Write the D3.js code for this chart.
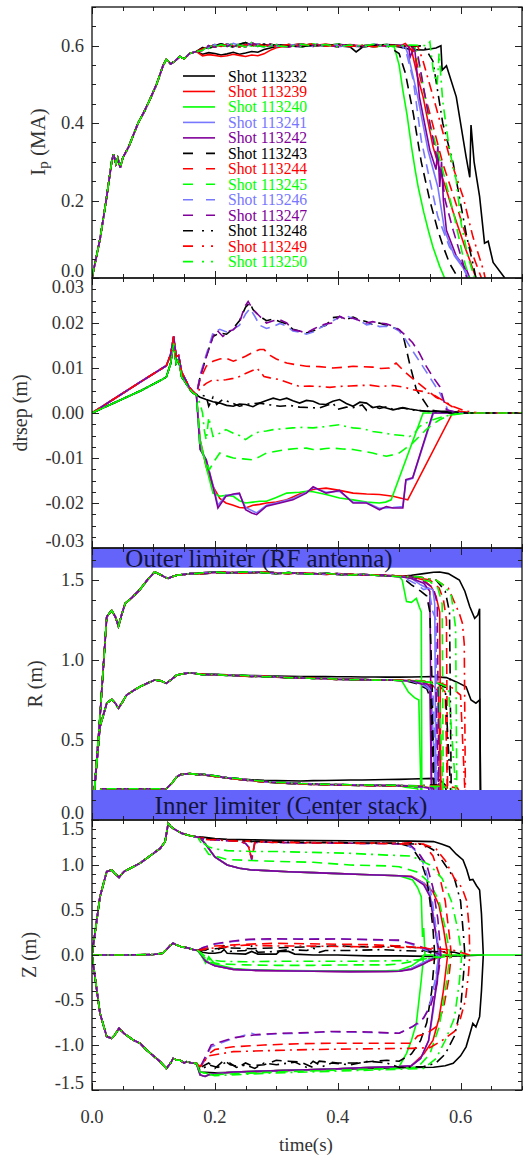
<!DOCTYPE html>
<html>
<head>
<meta charset="utf-8">
<script src="https://cdn.jsdelivr.net/npm/d3@7"></script>
<style>
  body { margin: 0; background: #fff; }
  text { font-family: "Liberation Serif", "Times New Roman", serif; }
</style>
</head>
<body>
<div id="chart"></div>
<script>
// ---- shots and styles ----
const shots = ["113232", "113239", "113240", "113241", "113242", "113243", "113244",
               "113245", "113246", "113247", "113248", "113249", "113250"];
const shotColors = ["#000000", "#ff0000", "#00ff00", "#7878ff", "#80009a",
                    "#000000", "#ff0000", "#00ff00", "#7878ff", "#80009a",
                    "#000000", "#ff0000", "#00ff00"];
const shotDash = [null, null, null, null, null,
                  "10,6", "10,6", "10,6", "10,6", "10,6",
                  "10,5,2,5", "10,5,2,5", "10,5,2,5"];
const legendDash = [null, null, null, null, null,
                    "10,13", "10,13", "10,13", "10,13", "10,13",
                    "10,9,2,7,2,10", "10,9,2,7,2,10", "10,9,2,7,2,10"];

// ---- tick labels ----
const timeTicks = [0, 0.2, 0.4, 0.6];
const ipTicks = [0, 0.2, 0.4, 0.6];
const drsepTicks = [-0.03, -0.02, -0.01, 0, 0.01, 0.02, 0.03];
const rTicks = [0, 0.5, 1.0, 1.5];
const zTicks = [-1.5, -1.0, -0.5, 0, 0.5, 1.0, 1.5];

// ---- I_p (MA) ----
const ipRamp = [[0,0],[0.013,0.1],[0.023,0.2],[0.032,0.3],[0.035,0.32],[0.039,0.295],[0.042,0.31],[0.046,0.285],
  [0.05,0.31],[0.06,0.34],[0.075,0.4],[0.085,0.43],[0.094,0.46],[0.105,0.5],[0.116,0.55],[0.121,0.565],
  [0.128,0.553],[0.135,0.56],[0.143,0.572],[0.15,0.566],[0.159,0.58],[0.17,0.585]];
const ipFlatA = [[0.18,0.592],[0.19,0.597],[0.2,0.603],[0.21,0.598],[0.22,0.604],[0.23,0.6],[0.24,0.597],[0.25,0.603],
  [0.26,0.599],[0.27,0.605],[0.28,0.6],[0.29,0.602],[0.3,0.598],[0.32,0.603],[0.34,0.6],[0.36,0.605],[0.38,0.599],
  [0.4,0.602],[0.42,0.598],[0.44,0.601],[0.46,0.597],[0.48,0.601]];
const ipFlatB = [[0.18,0.588],[0.19,0.6],[0.2,0.596],[0.21,0.603],[0.22,0.598],[0.23,0.606],[0.24,0.601],[0.25,0.597],
  [0.26,0.608],[0.27,0.6],[0.28,0.597],[0.29,0.604],[0.3,0.6],[0.32,0.597],[0.34,0.604],[0.36,0.599],[0.38,0.603],
  [0.4,0.597],[0.42,0.602],[0.44,0.599],[0.46,0.604],[0.48,0.598]];
const ipFlatC = [[0.18,0.595],[0.19,0.593],[0.2,0.6],[0.21,0.605],[0.22,0.6],[0.23,0.597],[0.24,0.604],[0.25,0.608],
  [0.26,0.602],[0.27,0.598],[0.28,0.604],[0.29,0.598],[0.3,0.603],[0.32,0.6],[0.34,0.597],[0.36,0.602],[0.38,0.6],
  [0.4,0.604],[0.42,0.6],[0.44,0.597],[0.46,0.601],[0.48,0.603]];
const ipTails = [
  [[0.18,0.578],[0.19,0.582],[0.2,0.58],[0.21,0.576],[0.22,0.579],[0.23,0.583],[0.24,0.578],[0.25,0.581],[0.26,0.585],
   [0.27,0.583],[0.28,0.59],[0.29,0.594],[0.3,0.598],[0.32,0.601],[0.34,0.604],[0.36,0.598],[0.38,0.603],[0.4,0.6],
   [0.42,0.597],[0.43,0.584],[0.44,0.596],[0.46,0.601],[0.48,0.603],[0.5,0.597],[0.52,0.59],[0.54,0.589],[0.56,0.594],
   [0.568,0.6],[0.57,0.537],[0.577,0.548],[0.593,0.468],[0.609,0.313],[0.615,0.26],[0.617,0.395],[0.622,0.3],
   [0.631,0.21],[0.639,0.09],[0.645,0.095],[0.653,0.04],[0.672,0]],
  [[0.18,0.574],[0.19,0.577],[0.2,0.575],[0.21,0.572],[0.22,0.574],[0.23,0.578],[0.24,0.575],[0.25,0.572],[0.26,0.576],
   [0.27,0.574],[0.28,0.579],[0.29,0.588],[0.3,0.595],[0.32,0.6],[0.34,0.605],[0.36,0.6],[0.38,0.604],[0.4,0.6],
   [0.42,0.603],[0.44,0.599],[0.46,0.603],[0.48,0.6],[0.5,0.598],[0.51,0.606],[0.52,0.59],[0.53,0.52],[0.539,0.468],
   [0.555,0.34],[0.566,0.28],[0.577,0.227],[0.588,0.17],[0.598,0.123],[0.607,0.08],[0.615,0.046],[0.625,0]],
  [[0.492,0.597],[0.5,0.55],[0.506,0.485],[0.513,0.42],[0.52,0.34],[0.526,0.28],[0.531,0.235],[0.54,0.17],[0.548,0.12],
   [0.555,0.08],[0.566,0.03],[0.574,0]],
  [[0.5,0.6],[0.51,0.598],[0.515,0.575],[0.53,0.47],[0.547,0.33],[0.563,0.235],[0.574,0.123],[0.59,0.057],[0.607,0.02],[0.612,0]],
  [[0.5,0.602],[0.515,0.6],[0.518,0.571],[0.525,0.598],[0.533,0.468],[0.55,0.33],[0.56,0.28],[0.563,0.34],[0.566,0.235],
   [0.569,0.3],[0.572,0.2],[0.577,0.123],[0.593,0.057],[0.61,0.02],[0.615,0]],
  [[0.49,0.59],[0.5,0.58],[0.51,0.53],[0.523,0.425],[0.536,0.3],[0.55,0.2],[0.563,0.123],[0.572,0.08],[0.582,0.038],[0.596,0]],
  [[0.5,0.6],[0.52,0.6],[0.525,0.58],[0.537,0.5],[0.55,0.425],[0.571,0.296],[0.593,0.19],[0.609,0.107],[0.625,0.038],[0.634,0]],
  [[0.5,0.6],[0.525,0.6],[0.533,0.55],[0.55,0.4],[0.571,0.278],[0.59,0.158],[0.604,0.055],[0.614,0]],
  [[0.495,0.6],[0.505,0.6],[0.512,0.58],[0.523,0.511],[0.536,0.356],[0.55,0.252],[0.563,0.158],[0.582,0.08],[0.601,0.038],[0.612,0]],
  [[0.5,0.6],[0.52,0.6],[0.53,0.58],[0.55,0.4],[0.563,0.296],[0.57,0.26],[0.575,0.2],[0.588,0.123],[0.604,0.038],[0.61,0]],
  [[0.5,0.6],[0.52,0.598],[0.54,0.6],[0.555,0.56],[0.571,0.4],[0.588,0.296],[0.598,0.21],[0.61,0.107],[0.62,0.038],[0.625,0]],
  [[0.5,0.6],[0.52,0.6],[0.53,0.6],[0.539,0.56],[0.56,0.442],[0.582,0.313],[0.604,0.21],[0.62,0.107],[0.637,0.021],[0.64,0]],
  [[0.5,0.6],[0.52,0.602],[0.545,0.6],[0.55,0.61],[0.555,0.542],[0.562,0.5],[0.565,0.58],[0.571,0.456],[0.582,0.33],
   [0.593,0.252],[0.601,0.14],[0.612,0.055],[0.623,0]]
];

// ---- drsep (m) ----
const drRampHi = [[0,0],[0.04,0.0035],[0.08,0.007],[0.115,0.01],[0.121,0.0105],[0.128,0.013],[0.133,0.017],[0.137,0.0125],
  [0.141,0.0128],[0.146,0.009],[0.152,0.0075],[0.158,0.0058],[0.164,0.0048],[0.17,0.004]];
const drRampLo = [[0,0],[0.04,0.0025],[0.08,0.005],[0.115,0.0075],[0.121,0.008],[0.128,0.011],[0.133,0.0155],[0.137,0.011],
  [0.141,0.012],[0.146,0.008],[0.152,0.0068],[0.158,0.0055],[0.164,0.0045],[0.17,0.004]];
const drTails = [
  [[0.176,0.0035],[0.186,0.003],[0.197,0.0025],[0.208,0.0022],[0.219,0.0017],[0.23,0.0015],[0.24,0.002],[0.25,0.0019],
   [0.262,0.0014],[0.273,0.0022],[0.284,0.0028],[0.295,0.0033],[0.306,0.0029],[0.317,0.0033],[0.327,0.0027],[0.338,0.0022],
   [0.349,0.0028],[0.36,0.0026],[0.37,0.002],[0.381,0.0019],[0.392,0.0026],[0.403,0.003],[0.414,0.0021],[0.425,0.0015],
   [0.436,0.0024],[0.447,0.0022],[0.457,0.0012],[0.468,0.0015],[0.479,0.0011],[0.49,0.0007],[0.506,0.0012],[0.517,0.0009],
   [0.53,0.0006],[0.544,0.0004],[0.577,0.0004],[0.62,0],[0.7,0]],
  [[0.176,-0.006],[0.186,-0.012],[0.197,-0.0163],[0.208,-0.019],[0.218,-0.02],[0.23,-0.0205],[0.24,-0.021],[0.25,-0.0211],
   [0.262,-0.0205],[0.273,-0.0203],[0.284,-0.02],[0.3,-0.0198],[0.317,-0.0193],[0.338,-0.018],[0.36,-0.017],[0.381,-0.0167],
   [0.403,-0.0172],[0.425,-0.0178],[0.447,-0.018],[0.468,-0.0181],[0.49,-0.0185],[0.505,-0.019],[0.514,-0.0193],[0.587,0],[0.7,0]],
  [[0.176,-0.006],[0.186,-0.012],[0.197,-0.0178],[0.208,-0.0185],[0.218,-0.0183],[0.23,-0.0185],[0.24,-0.0195],[0.25,-0.02],
   [0.262,-0.0198],[0.273,-0.0196],[0.284,-0.0196],[0.3,-0.0188],[0.317,-0.0178],[0.338,-0.0176],[0.349,-0.0174],[0.36,-0.0175],
   [0.381,-0.0181],[0.403,-0.0189],[0.425,-0.0193],[0.447,-0.0198],[0.468,-0.02],[0.478,-0.0198],[0.487,-0.0193],[0.539,0],[0.7,0]],
  [[0.176,-0.008],[0.186,-0.0104],[0.197,-0.016],[0.205,-0.0205],[0.218,-0.0183],[0.24,-0.018],[0.25,-0.021],[0.268,-0.0222],
   [0.284,-0.0205],[0.306,-0.0198],[0.327,-0.019],[0.349,-0.0176],[0.36,-0.0166],[0.381,-0.0176],[0.403,-0.0174],[0.425,-0.0198],
   [0.447,-0.0199],[0.468,-0.0212],[0.49,-0.021],[0.506,-0.0208],[0.511,-0.015],[0.522,-0.0145],[0.556,0],[0.7,0]],
  [[0.176,-0.0081],[0.186,-0.0104],[0.197,-0.0163],[0.205,-0.0211],[0.218,-0.0185],[0.23,-0.018],[0.24,-0.0178],[0.25,-0.0215],
   [0.26,-0.0222],[0.268,-0.0226],[0.284,-0.0207],[0.306,-0.02],[0.327,-0.0193],[0.349,-0.0178],[0.36,-0.0164],[0.381,-0.0178],
   [0.403,-0.0172],[0.425,-0.02],[0.447,-0.02],[0.468,-0.0215],[0.479,-0.0208],[0.49,-0.0211],[0.506,-0.0211],[0.511,-0.0148],
   [0.522,-0.0144],[0.555,0],[0.7,0]],
  [[0.176,0.008],[0.186,0.0126],[0.197,0.017],[0.208,0.0178],[0.219,0.0175],[0.23,0.0188],[0.24,0.0205],[0.25,0.0235],
   [0.257,0.0245],[0.262,0.023],[0.273,0.0215],[0.284,0.0205],[0.295,0.0209],[0.306,0.0203],[0.317,0.0198],[0.327,0.0186],
   [0.338,0.0182],[0.349,0.0178],[0.36,0.0182],[0.37,0.019],[0.381,0.0195],[0.392,0.0212],[0.403,0.0214],[0.414,0.0208],
   [0.425,0.0213],[0.436,0.0207],[0.447,0.0203],[0.457,0.0196],[0.468,0.02],[0.479,0.0195],[0.49,0.019],[0.5,0.0185],
   [0.506,0.0175],[0.517,0.011],[0.528,0.0052],[0.55,0.0007],[0.58,0],[0.7,0]],
  [[0.176,0.0075],[0.186,0.0104],[0.197,0.0115],[0.208,0.012],[0.218,0.0122],[0.23,0.0115],[0.24,0.012],[0.25,0.0126],
   [0.262,0.0135],[0.273,0.0141],[0.28,0.0141],[0.29,0.0128],[0.3,0.012],[0.317,0.0111],[0.333,0.0107],[0.349,0.0104],
   [0.37,0.0103],[0.392,0.01],[0.414,0.0102],[0.425,0.0104],[0.44,0.0103],[0.457,0.0102],[0.47,0.0099],[0.484,0.01],
   [0.495,0.0111],[0.511,0.0089],[0.528,0.007],[0.544,0.0052],[0.56,0.0035],[0.577,0.0022],[0.598,0.0004],[0.62,0],[0.7,0]],
  [[0.176,-0.0074],[0.183,-0.01],[0.191,-0.0126],[0.2,-0.0105],[0.208,-0.0089],[0.218,-0.0095],[0.23,-0.01],[0.246,-0.0102],
   [0.262,-0.0104],[0.273,-0.0097],[0.284,-0.0089],[0.3,-0.0085],[0.317,-0.0081],[0.333,-0.0079],[0.349,-0.0078],[0.36,-0.0081],
   [0.37,-0.0081],[0.381,-0.0079],[0.392,-0.0078],[0.408,-0.008],[0.425,-0.0081],[0.441,-0.0085],[0.457,-0.0089],[0.468,-0.0093],
   [0.479,-0.0096],[0.49,-0.0093],[0.5,-0.0089],[0.511,-0.0078],[0.522,-0.0067],[0.533,-0.0052],[0.544,-0.0037],[0.555,-0.0025],
   [0.566,-0.0015],[0.58,-0.0006],[0.592,-0.0002],[0.61,0],[0.7,0]],
  [[0.176,0.0085],[0.186,0.013],[0.197,0.0178],[0.208,0.0186],[0.219,0.018],[0.23,0.0186],[0.24,0.0195],[0.25,0.022],
   [0.257,0.0232],[0.265,0.0215],[0.273,0.0195],[0.284,0.0188],[0.295,0.0192],[0.306,0.0199],[0.317,0.0193],[0.327,0.0182],
   [0.338,0.018],[0.349,0.0175],[0.36,0.018],[0.37,0.0188],[0.381,0.0196],[0.392,0.0205],[0.403,0.0213],[0.414,0.0216],
   [0.425,0.021],[0.436,0.0205],[0.447,0.0196],[0.457,0.0198],[0.468,0.0192],[0.479,0.0193],[0.49,0.019],[0.5,0.0182],
   [0.511,0.0162],[0.522,0.0138],[0.544,0.0092],[0.566,0.0045],[0.58,0.0005],[0.6,0],[0.7,0]],
  [[0.176,0.008],[0.1865,0.0126],[0.197,0.017],[0.2027,0.0185],[0.213,0.017],[0.223,0.0182],[0.23,0.0185],[0.24,0.02],
   [0.248,0.0235],[0.2542,0.0248],[0.262,0.023],[0.273,0.0215],[0.284,0.02],[0.295,0.0205],[0.306,0.0207],[0.317,0.02],
   [0.327,0.0185],[0.338,0.0182],[0.349,0.0178],[0.36,0.0186],[0.37,0.0193],[0.381,0.0198],[0.392,0.02],[0.403,0.0215],
   [0.414,0.0208],[0.425,0.0211],[0.436,0.0205],[0.447,0.02],[0.457,0.0203],[0.468,0.02],[0.479,0.0198],[0.49,0.0193],
   [0.5,0.0185],[0.511,0.0172],[0.522,0.0156],[0.533,0.0133],[0.544,0.0104],[0.555,0.008],[0.566,0.0059],[0.577,0.0007],
   [0.6,0],[0.7,0]],
  [[0.176,0.004],[0.186,0.0037],[0.19,0.0015],[0.197,0.0035],[0.203,0.0019],[0.213,0.003],[0.223,0.0025],[0.24,0.0015],
   [0.255,0.002],[0.273,0.0022],[0.29,0.0018],[0.306,0.0015],[0.322,0.0017],[0.338,0.0013],[0.354,0.0012],[0.37,0.0011],
   [0.392,0.0022],[0.4,0.0008],[0.414,0.0013],[0.425,0.0012],[0.44,0.0018],[0.447,0.0006],[0.457,0.0016],[0.468,0.001],
   [0.48,0.0014],[0.49,0.0008],[0.506,0.0011],[0.52,0.0007],[0.544,0.0004],[0.577,0.0002],[0.61,0],[0.7,0]],
  [[0.176,0.0055],[0.186,0.0066],[0.197,0.0074],[0.208,0.0072],[0.218,0.0074],[0.23,0.0077],[0.24,0.0081],[0.25,0.0088],
   [0.262,0.0095],[0.268,0.01],[0.275,0.009],[0.28,0.0081],[0.29,0.0078],[0.306,0.0074],[0.322,0.0066],[0.338,0.0059],
   [0.354,0.006],[0.37,0.0059],[0.387,0.0057],[0.403,0.0059],[0.42,0.006],[0.436,0.0061],[0.452,0.0062],[0.468,0.0059],
   [0.49,0.0061],[0.506,0.0058],[0.522,0.0052],[0.538,0.0048],[0.555,0.0041],[0.571,0.0028],[0.587,0.0015],[0.609,0.0004],
   [0.63,0],[0.7,0]],
  [[0.176,0.002],[0.18,0],[0.183,-0.004],[0.186,-0.006],[0.19,-0.001],[0.197,-0.0052],[0.208,-0.0045],[0.218,-0.0037],
   [0.23,-0.0045],[0.24,-0.005],[0.25,-0.0059],[0.262,-0.0048],[0.273,-0.0041],[0.284,-0.004],[0.295,-0.0037],[0.311,-0.0035],
   [0.327,-0.0033],[0.343,-0.0032],[0.36,-0.0033],[0.381,-0.003],[0.403,-0.0026],[0.414,-0.003],[0.425,-0.0033],[0.441,-0.0035],
   [0.457,-0.0041],[0.473,-0.0044],[0.49,-0.0048],[0.506,-0.005],[0.517,-0.0052],[0.525,-0.0045],[0.533,-0.003],[0.544,-0.0022],
   [0.555,-0.0015],[0.571,-0.0008],[0.587,-0.0004],[0.609,0],[0.7,0]]
];

// ---- R (m): outer edge, magnetic axis, inner edge ----
const rOutRamp = [[0,0.05],[0.004,0.19],[0.013,0.646],[0.024,1.27],[0.032,1.31],[0.038,1.27],[0.043,1.21],[0.048,1.28],
  [0.054,1.354],[0.065,1.39],[0.078,1.44],[0.09,1.5],[0.102,1.55],[0.113,1.53],[0.12,1.515],[0.124,1.51],[0.13,1.52],
  [0.138,1.53],[0.15,1.535],[0.16,1.54],[0.17,1.54]];
const rOutFlatA = [[0.18,1.545],[0.2,1.55],[0.22,1.543],[0.24,1.548],[0.26,1.552],[0.28,1.545],[0.3,1.54],[0.32,1.546],
  [0.34,1.54],[0.36,1.537],[0.38,1.542],[0.4,1.535],[0.42,1.53],[0.44,1.536],[0.46,1.53],[0.48,1.526],[0.5,1.522]];
const rOutFlatB = [[0.18,1.54],[0.2,1.545],[0.22,1.55],[0.24,1.542],[0.26,1.545],[0.28,1.55],[0.3,1.545],[0.32,1.54],
  [0.34,1.545],[0.36,1.54],[0.38,1.535],[0.4,1.54],[0.42,1.535],[0.44,1.53],[0.46,1.532],[0.48,1.53],[0.5,1.525]];
const rOutTails = [
  [[0.52,1.53],[0.54,1.54],[0.556,1.548],[0.566,1.55],[0.58,1.54],[0.598,1.5],[0.607,1.43],[0.615,1.333],[0.623,1.26],
   [0.628,1.28],[0.631,1.32],[0.632,0.1]],
  [[0.52,1.52],[0.54,1.5],[0.552,1.46],[0.56,1.4],[0.566,1.3],[0.568,0.1]],
  [[0.505,1.5],[0.512,1.365],[0.52,1.36],[0.528,1.385],[0.533,1.33],[0.536,1.3],[0.537,0.1]],
  [[0.52,1.51],[0.535,1.47],[0.545,1.45],[0.555,1.44],[0.558,1.35],[0.56,0.1]],
  [[0.52,1.51],[0.54,1.48],[0.55,1.43],[0.553,0.1]],
  [[0.51,1.5],[0.52,1.47],[0.535,1.43],[0.545,1.4],[0.55,1.3],[0.554,0.8],[0.557,0.1]],
  [[0.52,1.52],[0.55,1.5],[0.565,1.45],[0.572,1.38],[0.577,1.25],[0.579,0.1]],
  [[0.52,1.52],[0.55,1.49],[0.563,1.45],[0.57,1.35],[0.572,0.1]],
  [[0.51,1.51],[0.53,1.47],[0.54,1.44],[0.548,1.45],[0.555,1.3],[0.56,1.25],[0.562,0.1]],
  [[0.52,1.52],[0.54,1.49],[0.556,1.45],[0.562,1.35],[0.565,0.1]],
  [[0.53,1.52],[0.56,1.5],[0.575,1.43],[0.582,1.3],[0.585,0.1]],
  [[0.53,1.52],[0.56,1.5],[0.58,1.45],[0.598,1.29],[0.603,1.23],[0.606,1.1],[0.608,0.1]],
  [[0.53,1.52],[0.56,1.5],[0.575,1.46],[0.585,1.4],[0.592,1.2],[0.594,0.1]]
];
const rMidRamp = [[0,0.05],[0.004,0.19],[0.013,0.583],[0.024,0.73],[0.032,0.754],[0.038,0.73],[0.043,0.698],[0.05,0.74],
  [0.056,0.78],[0.068,0.81],[0.078,0.833],[0.09,0.855],[0.102,0.875],[0.112,0.87],[0.121,0.854],[0.13,0.88],[0.138,0.906],
  [0.15,0.915],[0.159,0.92],[0.17,0.915]];
const rMidFlatA = [[0.18,0.912],[0.2,0.906],[0.22,0.908],[0.24,0.9],[0.26,0.897],[0.28,0.9],[0.3,0.893],[0.32,0.89],
  [0.34,0.887],[0.36,0.889],[0.38,0.882],[0.4,0.879],[0.42,0.88],[0.44,0.876],[0.46,0.877],[0.48,0.874],[0.5,0.875]];
const rMidFlatB = [[0.18,0.908],[0.2,0.91],[0.22,0.903],[0.24,0.905],[0.26,0.9],[0.28,0.895],[0.3,0.897],[0.32,0.888],
  [0.34,0.89],[0.36,0.884],[0.38,0.885],[0.4,0.88],[0.42,0.877],[0.44,0.879],[0.46,0.874],[0.48,0.876],[0.5,0.872]];
const rMidFlatHi = [[0.18,0.912],[0.2,0.91],[0.22,0.908],[0.24,0.905],[0.26,0.903],[0.28,0.902],[0.3,0.9],[0.32,0.898],
  [0.34,0.897],[0.36,0.896],[0.38,0.896],[0.4,0.895],[0.42,0.895],[0.44,0.894],[0.46,0.894],[0.48,0.893],[0.5,0.893]];
const rMidTails = [
  [[0.52,0.894],[0.54,0.895],[0.556,0.896],[0.577,0.89],[0.595,0.86],[0.609,0.833],[0.617,0.75],[0.625,0.73],[0.631,0.75],[0.633,0.1]],
  [[0.52,0.87],[0.54,0.855],[0.555,0.84],[0.564,0.8],[0.568,0.1]],
  [[0.505,0.865],[0.515,0.8],[0.525,0.765],[0.532,0.75],[0.536,0.1]],
  [[0.52,0.868],[0.54,0.85],[0.552,0.82],[0.56,0.1]],
  [[0.52,0.868],[0.54,0.845],[0.55,0.81],[0.553,0.1]],
  [[0.51,0.87],[0.53,0.85],[0.545,0.82],[0.552,0.75],[0.557,0.1]],
  [[0.52,0.872],[0.55,0.86],[0.565,0.84],[0.575,0.8],[0.579,0.1]],
  [[0.52,0.87],[0.55,0.86],[0.565,0.83],[0.572,0.1]],
  [[0.52,0.868],[0.54,0.84],[0.555,0.8],[0.562,0.1]],
  [[0.52,0.87],[0.545,0.85],[0.56,0.8],[0.565,0.1]],
  [[0.53,0.87],[0.56,0.86],[0.575,0.83],[0.585,0.1]],
  [[0.53,0.872],[0.56,0.865],[0.585,0.83],[0.6,0.78],[0.608,0.1]],
  [[0.53,0.87],[0.56,0.86],[0.58,0.83],[0.594,0.1]]
];
const rInRamp = [[0.004,0.1],[0.015,0.195],[0.05,0.195],[0.1,0.195],[0.121,0.195],[0.13,0.23],[0.138,0.27],[0.145,0.285],
  [0.159,0.29],[0.17,0.285]];
const rInFlatA = [[0.18,0.283],[0.2,0.272],[0.22,0.262],[0.24,0.254],[0.26,0.245],[0.28,0.238],[0.3,0.233],[0.32,0.229],
  [0.34,0.226],[0.36,0.222],[0.38,0.221],[0.4,0.218],[0.42,0.218],[0.44,0.216],[0.46,0.215],[0.48,0.214],[0.5,0.213]];
const rInFlatB = [[0.18,0.286],[0.2,0.276],[0.22,0.264],[0.24,0.258],[0.26,0.248],[0.28,0.242],[0.3,0.235],[0.32,0.233],
  [0.34,0.228],[0.36,0.226],[0.38,0.223],[0.4,0.222],[0.42,0.22],[0.44,0.219],[0.46,0.218],[0.48,0.217],[0.5,0.216]];
const rInFlatHi = [[0.18,0.285],[0.2,0.275],[0.22,0.265],[0.24,0.258],[0.26,0.252],[0.28,0.248],[0.3,0.246],[0.32,0.245],
  [0.34,0.244],[0.36,0.246],[0.38,0.247],[0.4,0.248],[0.42,0.25],[0.44,0.25],[0.46,0.252],[0.48,0.253],[0.5,0.254]];
const rInTails = [
  [[0.52,0.256],[0.556,0.26],[0.566,0.25],[0.575,0.22],[0.58,0.1]],
  [[0.53,0.21],[0.555,0.2],[0.568,0.1]],
  [[0.51,0.205],[0.53,0.195],[0.537,0.1]],
  [[0.53,0.21],[0.55,0.2],[0.56,0.1]],
  [[0.53,0.21],[0.548,0.2],[0.553,0.1]],
  [[0.52,0.21],[0.545,0.205],[0.557,0.1]],
  [[0.53,0.212],[0.565,0.205],[0.579,0.1]],
  [[0.53,0.21],[0.56,0.2],[0.572,0.1]],
  [[0.53,0.21],[0.55,0.2],[0.562,0.1]],
  [[0.53,0.21],[0.555,0.2],[0.565,0.1]],
  [[0.53,0.214],[0.56,0.22],[0.575,0.205],[0.585,0.1]],
  [[0.53,0.213],[0.57,0.215],[0.595,0.2],[0.608,0.1]],
  [[0.53,0.212],[0.565,0.21],[0.585,0.2],[0.594,0.1]]
];

// ---- Z (m): top edge, magnetic axis, bottom edge ----
const zUpRamp = [[0,0],[0.013,0.648],[0.024,0.926],[0.032,0.944],[0.037,0.907],[0.044,0.863],[0.052,0.926],[0.067,0.981],
  [0.078,1.02],[0.089,1.074],[0.1,1.13],[0.111,1.185],[0.119,1.26],[0.124,1.463],[0.128,1.43],[0.132,1.407],[0.146,1.352],
  [0.16,1.325],[0.172,1.31]];
const zUpHiA = [[0.18,1.3],[0.19,1.295],[0.2,1.285],[0.22,1.275],[0.24,1.27],[0.26,1.262],[0.28,1.26],[0.3,1.255],
  [0.33,1.252],[0.36,1.25],[0.4,1.25],[0.44,1.245],[0.48,1.242],[0.5,1.24]];
const zUpHiB = [[0.18,1.29],[0.19,1.28],[0.2,1.28],[0.22,1.27],[0.24,1.265],[0.25,1.24],[0.255,1.2],[0.26,1.06],
  [0.265,1.25],[0.28,1.255],[0.3,1.25],[0.33,1.248],[0.36,1.245],[0.4,1.243],[0.44,1.24],[0.48,1.238],[0.5,1.235]];
const zUpNeg = [[0.176,1.3],[0.185,1.23],[0.2,1.09],[0.22,1.0],[0.24,0.963],[0.26,0.945],[0.284,0.937],[0.32,0.925],
  [0.36,0.915],[0.392,0.907],[0.44,0.895],[0.5,0.881]];
const zUpTails = [
  [[0.18,1.31],[0.2,1.295],[0.22,1.285],[0.26,1.28],[0.3,1.275],[0.36,1.272],[0.42,1.27],[0.48,1.268],[0.52,1.265],
   [0.556,1.26],[0.57,1.23],[0.582,1.2],[0.593,1.12],[0.604,1.056],[0.61,0.95],[0.615,0.833],[0.62,0.84],[0.626,0.77],
   [0.631,0.722],[0.634,0.46],[0.637,0]],
  [[0.52,0.875],[0.54,0.8],[0.555,0.7],[0.565,0.55],[0.572,0.3],[0.579,0]],
  [[0.505,0.87],[0.522,0.833],[0.53,0.75],[0.536,0.648],[0.538,0.2],[0.54,0.3],[0.542,0]],
  [[0.52,0.87],[0.54,0.8],[0.55,0.68],[0.558,0.35],[0.564,0]],
  [[0.52,0.87],[0.54,0.78],[0.55,0.65],[0.558,0.3],[0.566,0]],
  [[0.52,1.2],[0.535,1.05],[0.545,0.85],[0.55,0.6],[0.555,0.3],[0.558,0]],
  [[0.52,1.25],[0.54,1.23],[0.555,1.1],[0.565,0.9],[0.575,0.6],[0.582,0.2],[0.585,0]],
  [[0.18,1.22],[0.19,1.12],[0.2,1.1],[0.22,1.06],[0.26,1.05],[0.3,1.04],[0.36,1.03],[0.42,1.0],[0.48,0.99],[0.5,0.98],
   [0.53,0.92],[0.55,0.8],[0.565,0.6],[0.575,0.3],[0.583,0]],
  [[0.52,1.2],[0.535,1.1],[0.545,0.9],[0.553,0.65],[0.56,0.3],[0.565,0]],
  [[0.515,1.24],[0.53,1.15],[0.545,1.0],[0.555,0.75],[0.563,0.4],[0.568,0]],
  [[0.54,1.23],[0.56,1.15],[0.575,1.0],[0.59,0.85],[0.6,0.6],[0.605,0.2],[0.607,0]],
  [[0.54,1.23],[0.56,1.18],[0.575,1.05],[0.59,0.85],[0.602,0.75],[0.61,0.6],[0.614,0.3],[0.615,0]],
  [[0.18,1.25],[0.19,1.2],[0.2,1.18],[0.22,1.16],[0.26,1.15],[0.3,1.15],[0.36,1.14],[0.42,1.13],[0.48,1.11],[0.52,1.1],
   [0.55,1.0],[0.57,0.85],[0.585,0.6],[0.595,0.3],[0.602,0]]
];
const zMidRamp = [[0,0],[0.05,0],[0.1,0.005],[0.115,0.02],[0.121,0.06],[0.128,0.11],[0.132,0.13],[0.138,0.11],
  [0.146,0.09],[0.155,0.08],[0.165,0.06],[0.172,0.05]];
const zMidNeg = [[0.178,0],[0.185,-0.07],[0.2,-0.12],[0.23,-0.16],[0.26,-0.17],[0.3,-0.175],[0.36,-0.18],[0.42,-0.185],
  [0.48,-0.183],[0.5,-0.18]];
const zMidTails = [
  [[0.18,0.03],[0.19,0.02],[0.2,0.02],[0.21,0.03],[0.215,0.06],[0.22,0.02],[0.25,0.01],[0.26,0.04],[0.27,0.01],[0.3,0.01],
   [0.305,0.04],[0.32,0.04],[0.33,0.01],[0.36,0],[0.4,0],[0.45,-0.01],[0.5,-0.01],[0.55,-0.015],[0.6,-0.01],[0.637,0]],
  [[0.52,-0.15],[0.54,-0.09],[0.56,-0.04],[0.579,0]],
  [[0.178,-0.01],[0.185,-0.09],[0.19,-0.02],[0.2,-0.1],[0.23,-0.15],[0.26,-0.165],[0.3,-0.17],[0.36,-0.175],[0.42,-0.178],
   [0.48,-0.175],[0.5,-0.17],[0.52,-0.12],[0.535,-0.05],[0.54,0],[0.7,0]],
  [[0.52,-0.15],[0.54,-0.08],[0.555,-0.03],[0.564,0]],
  [[0.52,-0.16],[0.54,-0.1],[0.555,-0.04],[0.566,0]],
  [[0.18,0.06],[0.22,0.08],[0.26,0.07],[0.3,0.08],[0.35,0.09],[0.4,0.1],[0.45,0.09],[0.5,0.1],[0.53,0.08],[0.55,0.03],[0.558,0]],
  [[0.18,0.07],[0.2,0.1],[0.25,0.12],[0.3,0.13],[0.35,0.125],[0.4,0.12],[0.45,0.115],[0.5,0.1],[0.54,0.08],[0.57,0.04],[0.585,0]],
  [[0.178,0.01],[0.19,-0.08],[0.21,-0.1],[0.25,-0.11],[0.3,-0.115],[0.36,-0.115],[0.42,-0.11],[0.48,-0.11],[0.5,-0.1],
   [0.53,-0.06],[0.56,-0.02],[0.583,0]],
  [[0.18,0.08],[0.2,0.12],[0.23,0.15],[0.26,0.17],[0.3,0.175],[0.35,0.18],[0.4,0.18],[0.45,0.17],[0.5,0.16],[0.52,0.12],
   [0.545,0.05],[0.565,0]],
  [[0.18,0.08],[0.2,0.125],[0.23,0.155],[0.255,0.175],[0.3,0.18],[0.35,0.175],[0.4,0.178],[0.45,0.172],[0.5,0.165],
   [0.525,0.12],[0.55,0.05],[0.568,0]],
  [[0.18,0.06],[0.2,0.04],[0.215,0.1],[0.225,0.04],[0.25,0.05],[0.26,0.1],[0.27,0.03],[0.3,0.04],[0.32,0.06],[0.35,0.05],
   [0.36,0.08],[0.37,0.03],[0.38,0.05],[0.42,0.05],[0.47,0.06],[0.5,0.05],[0.55,0.04],[0.59,0.03],[0.607,0]],
  [[0.18,0.06],[0.2,0.08],[0.25,0.11],[0.3,0.1],[0.35,0.1],[0.4,0.095],[0.45,0.09],[0.5,0.085],[0.55,0.08],[0.59,0.05],[0.615,0]],
  [[0.178,0.02],[0.19,-0.05],[0.21,-0.07],[0.25,-0.075],[0.3,-0.07],[0.36,-0.07],[0.42,-0.07],[0.48,-0.065],[0.52,-0.06],
   [0.56,-0.03],[0.602,0]]
];
const zLoRamp = [[0,0],[0.013,-0.648],[0.024,-0.907],[0.032,-0.926],[0.037,-0.889],[0.044,-0.815],[0.052,-0.87],
  [0.067,-0.944],[0.078,-0.98],[0.089,-1.056],[0.1,-1.12],[0.111,-1.185],[0.121,-1.26],[0.128,-1.2],[0.132,-1.148],
  [0.138,-1.17],[0.143,-1.167],[0.15,-1.2],[0.154,-1.185],[0.162,-1.2],[0.17,-1.204]];
const zLoNeg = [[0.176,-1.333],[0.184,-1.35],[0.19,-1.33],[0.2,-1.32],[0.23,-1.3],[0.28,-1.29],[0.338,-1.278],[0.4,-1.265],
  [0.447,-1.25],[0.5,-1.24]];
const zLoTails = [
  [[0.176,-1.3],[0.2,-1.31],[0.25,-1.3],[0.3,-1.285],[0.36,-1.275],[0.42,-1.265],[0.48,-1.255],[0.52,-1.25],[0.556,-1.248],
   [0.575,-1.23],[0.588,-1.204],[0.6,-1.12],[0.609,-1.02],[0.615,-0.88],[0.62,-0.76],[0.625,-0.8],[0.631,-0.685],
   [0.634,-0.4],[0.637,0]],
  [[0.52,-1.23],[0.54,-1.1],[0.555,-0.95],[0.565,-0.7],[0.572,-0.4],[0.579,0]],
  [[0.512,-1.093],[0.52,-0.95],[0.528,-0.76],[0.536,-0.28],[0.54,0]],
  [[0.52,-1.23],[0.535,-1.15],[0.548,-0.95],[0.556,-0.6],[0.564,0]],
  [[0.52,-1.23],[0.535,-1.15],[0.548,-0.95],[0.555,-0.6],[0.562,-0.3],[0.566,0]],
  [[0.176,-1.25],[0.19,-1.2],[0.2,-1.26],[0.215,-1.17],[0.225,-1.22],[0.24,-1.24],[0.25,-1.2],[0.26,-1.23],[0.28,-1.22],
   [0.3,-1.17],[0.32,-1.18],[0.34,-1.19],[0.36,-1.25],[0.37,-1.18],[0.4,-1.2],[0.43,-1.2],[0.46,-1.18],[0.48,-1.17],
   [0.5,-1.18],[0.52,-1.1],[0.535,-0.95],[0.545,-0.75],[0.553,-0.4],[0.558,0]],
  [[0.176,-1.25],[0.19,-1.1],[0.2,-1.05],[0.23,-1.02],[0.28,-1.0],[0.34,-0.985],[0.4,-0.98],[0.46,-0.98],[0.5,-0.98],
   [0.52,-0.98],[0.53,-0.9],[0.545,-0.87],[0.56,-0.8],[0.572,-0.6],[0.58,-0.3],[0.585,0]],
  [[0.176,-1.3],[0.2,-1.33],[0.3,-1.3],[0.4,-1.28],[0.5,-1.26],[0.53,-1.25],[0.55,-1.1],[0.565,-0.8],[0.575,-0.4],[0.583,0]],
  [[0.176,-1.25],[0.194,-1.02],[0.23,-0.926],[0.26,-0.87],[0.268,-0.889],[0.3,-0.875],[0.338,-0.87],[0.39,-0.852],
   [0.45,-0.86],[0.5,-0.87],[0.52,-0.8],[0.535,-0.75],[0.548,-0.6],[0.558,-0.3],[0.565,0]],
  [[0.176,-1.25],[0.194,-1.0],[0.23,-0.92],[0.268,-0.885],[0.3,-0.872],[0.338,-0.865],[0.39,-0.85],[0.45,-0.855],
   [0.5,-0.87],[0.522,-0.796],[0.54,-0.7],[0.552,-0.55],[0.562,-0.3],[0.568,0]],
  [[0.176,-1.28],[0.19,-1.22],[0.205,-1.25],[0.22,-1.18],[0.235,-1.25],[0.25,-1.22],[0.265,-1.26],[0.28,-1.2],[0.3,-1.22],
   [0.33,-1.19],[0.35,-1.25],[0.36,-1.18],[0.375,-1.24],[0.39,-1.2],[0.42,-1.22],[0.45,-1.18],[0.48,-1.2],[0.5,-1.25],
   [0.54,-1.24],[0.56,-1.2],[0.575,-1.1],[0.59,-0.9],[0.6,-0.6],[0.605,-0.2],[0.607,0]],
  [[0.176,-1.24],[0.19,-1.12],[0.23,-1.074],[0.3,-1.06],[0.36,-1.05],[0.42,-1.045],[0.48,-1.04],[0.52,-1.037],[0.55,-1.03],
   [0.57,-0.95],[0.59,-0.85],[0.6,-0.7],[0.608,-0.5],[0.613,-0.2],[0.615,0]],
  [[0.176,-1.3],[0.2,-1.34],[0.3,-1.31],[0.4,-1.29],[0.5,-1.27],[0.54,-1.26],[0.56,-1.15],[0.575,-0.95],[0.59,-0.7],
   [0.598,-0.3],[0.602,0]]
];

// ---- assemble each shot's curve from the pieces read above ----
const cat = parts => [].concat(...parts);
const ipLines = [
  [ipRamp, ipTails[0]], [ipRamp, ipTails[1]], [ipRamp, ipFlatA, ipTails[2]], [ipRamp, ipFlatB, ipTails[3]],
  [ipRamp, ipFlatC, ipTails[4]], [ipRamp, ipFlatA, ipTails[5]], [ipRamp, ipFlatB, ipTails[6]], [ipRamp, ipFlatC, ipTails[7]],
  [ipRamp, ipFlatA, ipTails[8]], [ipRamp, ipFlatB, ipTails[9]], [ipRamp, ipFlatC, ipTails[10]], [ipRamp, ipFlatA, ipTails[11]],
  [ipRamp, ipFlatB, ipTails[12]]
].map(cat);
const drRampOf = [drRampLo, drRampHi, drRampLo, drRampHi, drRampHi, drRampLo, drRampHi, drRampLo, drRampHi, drRampHi,
  drRampLo, drRampHi, drRampLo];
const drLines = drTails.map((t, i) => cat([drRampOf[i], t]));
const rOutFlatOf = [rOutFlatA, rOutFlatB, rOutFlatA, rOutFlatB, rOutFlatA, rOutFlatB, rOutFlatA, rOutFlatB, rOutFlatA,
  rOutFlatB, rOutFlatA, rOutFlatB, rOutFlatA];
const rMidFlatOf = [rMidFlatHi, rMidFlatA, rMidFlatB, rMidFlatA, rMidFlatB, rMidFlatA, rMidFlatB, rMidFlatA, rMidFlatB,
  rMidFlatA, rMidFlatB, rMidFlatA, rMidFlatB];
const rInFlatOf = [rInFlatHi, rInFlatA, rInFlatB, rInFlatA, rInFlatB, rInFlatA, rInFlatB, rInFlatA, rInFlatB, rInFlatA,
  rInFlatB, rInFlatA, rInFlatB];
const rLines = [];
shots.forEach((s, i) => {
  rLines.push({i, pts: cat([rOutRamp, rOutFlatOf[i], rOutTails[i]])});
  rLines.push({i, pts: cat([rMidRamp, rMidFlatOf[i], rMidTails[i]])});
  rLines.push({i, pts: cat([rInRamp, rInFlatOf[i], rInTails[i]])});
});
const zUpFlatOf = [[], zUpNeg, zUpNeg, zUpNeg, zUpNeg, zUpHiA, zUpHiA, [], zUpHiB, zUpHiB, zUpHiA, zUpHiB, []];
const zMidFlatOf = [[], zMidNeg, [], zMidNeg, zMidNeg, [], [], [], [], [], [], [], []];
const zLoFlatOf = [[], zLoNeg, zLoNeg, zLoNeg, zLoNeg, [], [], [], [], [], [], [], []];
const zLines = [];
shots.forEach((s, i) => {
  zLines.push({i, pts: cat([zUpRamp, zUpFlatOf[i], zUpTails[i]])});
  zLines.push({i, pts: cat([zMidRamp, zMidFlatOf[i], zMidTails[i]])});
  zLines.push({i, pts: cat([zLoRamp, zLoFlatOf[i], zLoTails[i]])});
});

// ---- layout ----
const width = 523, height = 1163;
const left = 92, right = 522;
const svg = d3.select("#chart").append("svg")
  .attr("width", width).attr("height", height);

const x = d3.scaleLinear().domain([0, 0.7]).range([left, right]);

const panels = [
  {id: "ip", top: 7, bottom: 278, domain: [0, 0.7], ticks: ipTicks, minor: 0.05, fmt: d3.format(".1f"),
   lines: ipLines.map((pts, i) => ({i, pts}))},
  {id: "dr", top: 278, bottom: 548, domain: [-0.03, 0.03], ticks: drsepTicks, minor: 0.0025, fmt: d3.format(".2f"),
   lines: drLines.map((pts, i) => ({i, pts}))},
  {id: "r", top: 548, bottom: 820, domain: [0, 1.7], ticks: rTicks, minor: 0.125, fmt: d3.format(".1f"), lines: rLines},
  {id: "z", top: 820, bottom: 1090, domain: [-1.5, 1.5], ticks: zTicks, minor: 0.1, fmt: d3.format(".1f"), lines: zLines}
];

const labelColor = "#333";
const xMinor = d3.range(0, 0.7001, 0.05);

panels.forEach(p => {
  p.y = d3.scaleLinear().domain(p.domain).range([p.bottom, p.top]);
  svg.append("clipPath").attr("id", "clip-" + p.id)
    .append("rect").attr("x", left).attr("y", p.top).attr("width", right - left).attr("height", p.bottom - p.top);

  const line = d3.line().x(d => x(d[0])).y(d => p.y(d[1]));
  svg.append("g").attr("clip-path", `url(#clip-${p.id})`)
    .selectAll("path").data(p.lines).join("path")
    .attr("d", d => line(d.pts))
    .attr("fill", "none")
    .attr("stroke", d => shotColors[d.i])
    .attr("stroke-width", 1.6)
    .attr("stroke-dasharray", d => shotDash[d.i]);
});

// limiter bands on the R panel
const rp = panels[2];
const bands = [
  {lo: 1.577, hi: 1.7, label: "Outer limiter (RF antenna)", cx: 259},
  {lo: 0.004, hi: 0.1875, label: "Inner limiter (Center stack)", cx: 291}
];
bands.forEach(b => {
  svg.append("rect")
    .attr("x", left).attr("width", right - left)
    .attr("y", rp.y(b.hi)).attr("height", rp.y(b.lo) - rp.y(b.hi))
    .attr("fill", "#6464fa");
  svg.append("text")
    .attr("x", b.cx).attr("y", (rp.y(b.hi) + rp.y(b.lo)) / 2 + 1)
    .attr("text-anchor", "middle").attr("dominant-baseline", "central")
    .style("font-size", "25px").attr("fill", "#14143a")
    .text(b.label);
});

// frames, ticks, labels
panels.forEach(p => {
  const g = svg.append("g");
  const yMinor = d3.range(p.domain[0], p.domain[1] + 1e-9, p.minor);
  const isMajor = v => p.ticks.some(t => Math.abs(t - v) < 1e-9);
  yMinor.forEach(v => {
    const L = isMajor(v) ? 7 : 4;
    const yy = Math.round(p.y(v)) + 0.5;
    g.append("line").attr("x1", left).attr("x2", left + L).attr("y1", yy).attr("y2", yy);
    g.append("line").attr("x1", right - L).attr("x2", right).attr("y1", yy).attr("y2", yy);
  });
  xMinor.forEach(v => {
    const L = timeTicks.some(t => Math.abs(t - v) < 1e-9) ? 7 : 4;
    const xx = Math.round(x(v)) + 0.5;
    g.append("line").attr("x1", xx).attr("x2", xx).attr("y1", p.top).attr("y2", p.top + L);
    g.append("line").attr("x1", xx).attr("x2", xx).attr("y1", p.bottom - L).attr("y2", p.bottom);
  });
  g.selectAll("line").attr("stroke", "#222").attr("stroke-width", 1);
  g.append("rect").attr("x", left).attr("y", p.top).attr("width", right - left).attr("height", p.bottom - p.top)
    .attr("fill", "none").attr("stroke", "#111").attr("stroke-width", 1.3);

  p.ticks.forEach(v => {
    let dy = 0;
    if (Math.abs(v - p.domain[1]) < 1e-9) dy = 9;
    if (Math.abs(v - p.domain[0]) < 1e-9) dy = -7;
    svg.append("text")
      .attr("x", 84).attr("y", p.y(v) + dy)
      .attr("text-anchor", "end").attr("dominant-baseline", "central")
      .style("font-size", "18.5px").attr("fill", labelColor)
      .text(p.fmt(v).replace("\u2212", "-"));
  });
});

// bottom time axis labels
timeTicks.forEach(v => {
  svg.append("text")
    .attr("x", x(v)).attr("y", 1117)
    .attr("text-anchor", "middle").attr("dominant-baseline", "central")
    .style("font-size", "18.5px").attr("fill", labelColor)
    .text(d3.format(".1f")(v));
});
svg.append("text")
  .attr("x", 306).attr("y", 1144)
  .attr("text-anchor", "middle").attr("dominant-baseline", "central")
  .style("font-size", "19px").attr("fill", labelColor)
  .text("time(s)");

// y axis titles
const yTitles = [
  {x: 38, y: 142, size: 21, text: "I", sub: "p", rest: " (MA)"},
  {x: 20, y: 413, size: 20, text: "drsep (m)"},
  {x: 35, y: 684, size: 20, text: "R (m)"},
  {x: 29, y: 955, size: 20, text: "Z (m)"}
];
yTitles.forEach(t => {
  const tx = svg.append("text")
    .attr("transform", `translate(${t.x},${t.y}) rotate(-90)`)
    .attr("text-anchor", "middle").attr("dominant-baseline", "central")
    .style("font-size", t.size + "px").attr("fill", labelColor);
  tx.append("tspan").text(t.text);
  if (t.sub) {
    tx.append("tspan").attr("dy", 5).style("font-size", "15px").text(t.sub);
    tx.append("tspan").attr("dy", -5).text(t.rest);
  }
});

// legend
const legend = svg.append("g");
shots.forEach((s, i) => {
  const yy = 76 + i * 15.47;
  legend.append("line")
    .attr("x1", 183).attr("x2", 215).attr("y1", yy).attr("y2", yy)
    .attr("stroke", shotColors[i]).attr("stroke-width", 1.6)
    .attr("stroke-dasharray", legendDash[i]);
  legend.append("text")
    .attr("x", 228).attr("y", yy)
    .attr("dominant-baseline", "central")
    .style("font-size", "15.7px").attr("fill", shotColors[i])
    .text("Shot " + s);
});
</script>
</body>
</html>
